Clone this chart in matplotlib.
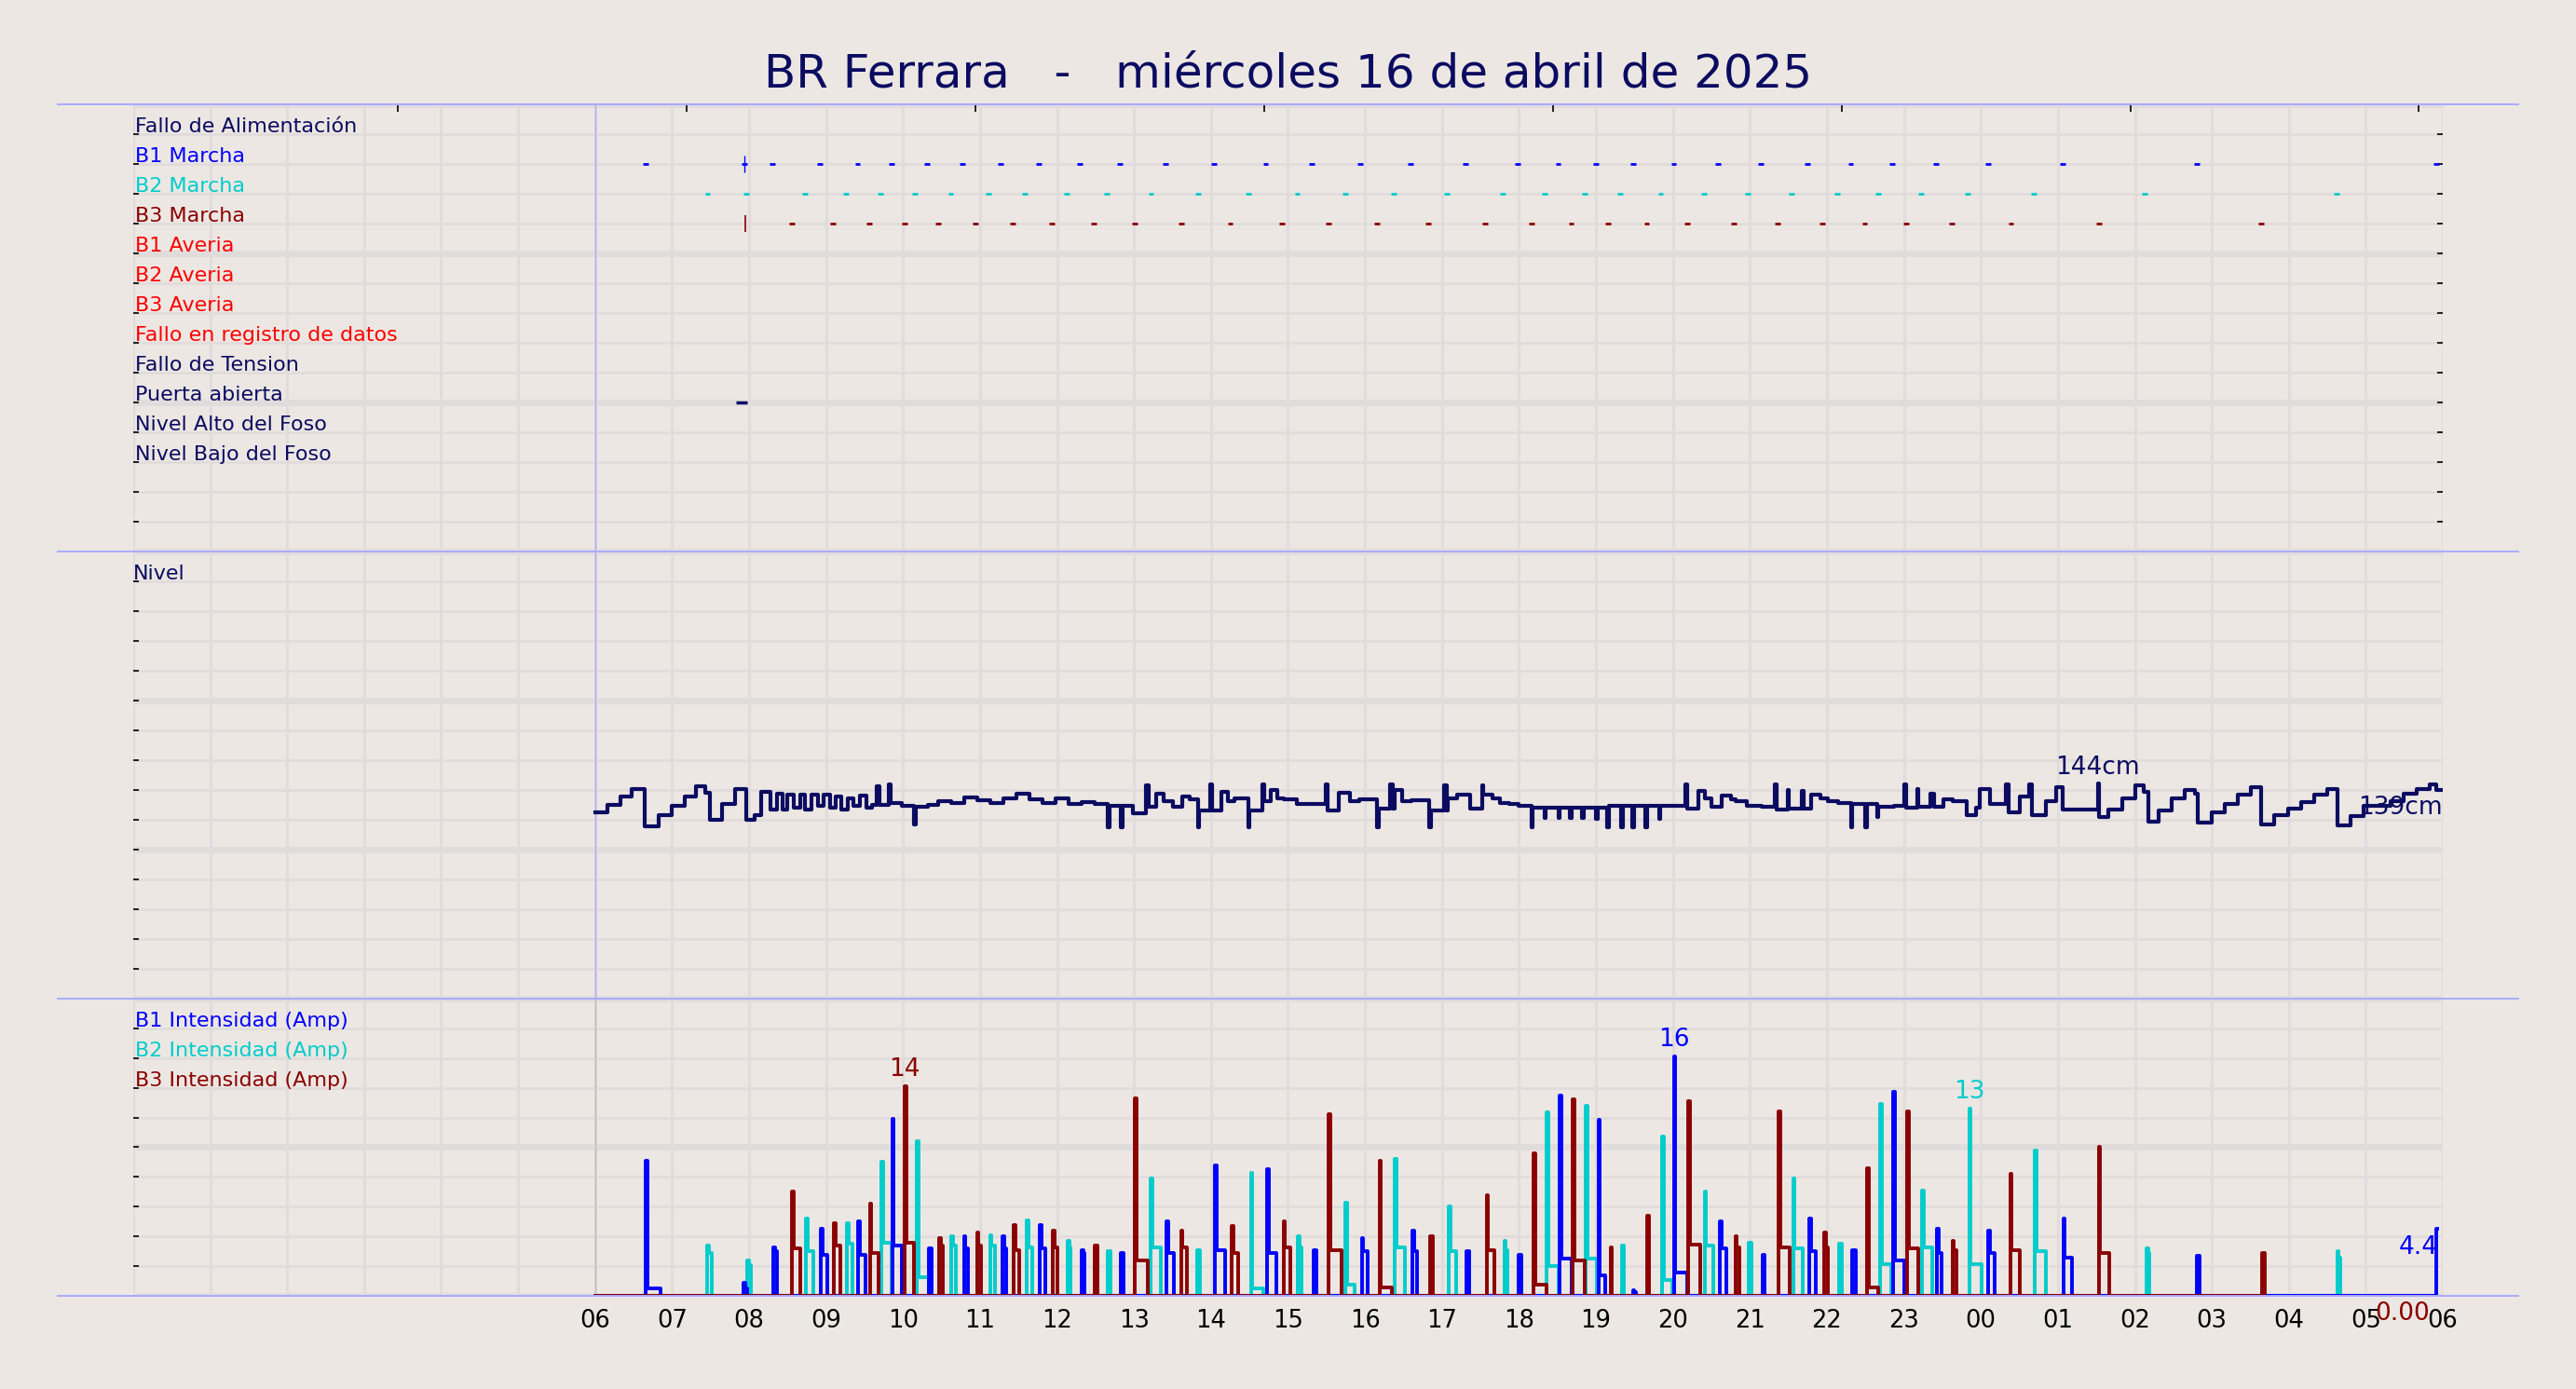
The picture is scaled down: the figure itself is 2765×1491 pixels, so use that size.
import matplotlib
matplotlib.use('Agg')
import matplotlib.pyplot as plt
from matplotlib.lines import Line2D

# ---- data (hours from 00:00 of the 16th, x axis runs to 06:00 of the 17th) ----
title = 'BR Ferrara   -   miércoles 16 de abril de 2025'

top_labels = ['Fallo de Alimentación', 'B1 Marcha', 'B2 Marcha', 'B3 Marcha',
              'B1 Averia', 'B2 Averia', 'B3 Averia', 'Fallo en registro de datos',
              'Fallo de Tension', 'Puerta abierta', 'Nivel Alto del Foso', 'Nivel Bajo del Foso']
bot_labels = ['B1 Intensidad (Amp)', 'B2 Intensidad (Amp)', 'B3 Intensidad (Amp)']

hour_ticks = list(range(6, 31))
hour_labels = ['06', '07', '08', '09', '10', '11', '12', '13', '14', '15', '16', '17',
               '18', '19', '20', '21', '22', '23', '00', '01', '02', '03', '04', '05', '06']
top_ticks = [3.435, 7.19, 10.94, 14.69, 18.44, 22.19, 25.94, 29.68]

# running marks (top panel)
b1_run = [6.66, 7.94, 8.30, 8.92, 9.41, 9.85, 10.31, 10.77, 11.27, 11.76, 12.30, 12.82, 13.41,
          14.04, 14.71, 15.31, 15.94, 16.59, 17.31, 17.98, 18.51, 19.00, 19.48, 20.01, 20.58,
          21.14, 21.75, 22.31, 22.85, 23.42, 24.09, 25.06, 26.80, 29.91]
b2_run = [7.46, 7.96, 8.73, 9.26, 9.71, 10.15, 10.62, 11.11, 11.58, 12.13, 12.65, 13.22, 13.83,
          14.49, 15.12, 15.74, 16.37, 17.06, 17.79, 18.33, 18.85, 19.31, 19.84, 20.40, 20.97,
          21.54, 22.13, 22.67, 23.22, 23.83, 24.69, 26.13, 28.62]
b3_run = [8.56, 9.09, 9.56, 10.02, 10.46, 10.94, 11.42, 11.93, 12.48, 13.01, 13.61, 14.25,
          14.92, 15.53, 16.16, 16.82, 17.56, 18.16, 18.68, 19.16, 19.66, 20.19, 20.79, 21.36,
          21.94, 22.49, 23.03, 23.62, 24.39, 25.53, 27.64]
b1_bar = 7.94
b3_bar = 7.95
puerta = [7.83, 7.98]

# level (cm)
lvl_t = [6.00, 6.16, 6.33, 6.48, 6.65, 6.82, 6.99, 7.16, 7.31, 7.43, 7.49, 7.65, 7.82, 7.96, 8.07, 8.16,
         8.28, 8.36, 8.43, 8.50, 8.58, 8.66, 8.73, 8.81, 8.89, 8.97, 9.05, 9.12, 9.20, 9.28, 9.36, 9.44,
         9.52, 9.60, 9.66, 9.69, 9.82, 9.84, 9.98, 10.14, 10.16,
         10.32, 10.45, 10.62, 10.79, 10.96, 11.13, 11.30, 11.47, 11.64, 11.81, 11.98, 12.15, 12.32,
         12.49, 12.66, 12.68, 12.83, 12.85, 12.99,
         13.16, 13.19, 13.29, 13.38, 13.50, 13.63, 13.72, 13.83, 13.85, 13.99,
         14.01, 14.14, 14.22, 14.31, 14.48, 14.50, 14.67, 14.69, 14.78, 14.86,
         14.94, 15.11, 15.28, 15.49, 15.52, 15.66, 15.80, 15.92, 16.16, 16.18,
         16.33, 16.36, 16.39, 16.48, 16.60, 16.83, 16.86, 17.03, 17.06, 17.07,
         17.20, 17.37, 17.52, 17.54, 17.66, 17.75, 17.88, 18.00, 18.16, 18.18,
         18.33, 18.35, 18.51, 18.53, 18.66, 18.68, 18.82, 18.84,
         19.00, 19.02, 19.15, 19.17, 19.33, 19.35, 19.47, 19.49, 19.64, 19.66, 19.82, 19.84,
         19.99, 20.16, 20.19, 20.33, 20.42, 20.50, 20.63, 20.76, 20.81, 20.96,
         21.15, 21.32, 21.35, 21.49, 21.51, 21.67, 21.70, 21.79, 21.92, 22.01,
         22.14, 22.31, 22.33, 22.50, 22.52, 22.65, 22.67, 22.87, 23.00, 23.03,
         23.17, 23.19, 23.34, 23.39, 23.51, 23.64, 23.82, 23.94, 23.99, 24.12,
         24.33, 24.36, 24.50, 24.63, 24.66, 24.85, 24.98, 25.06, 25.52, 25.54,
         25.66, 25.84, 26.01, 26.12, 26.18,
         26.31, 26.48, 26.65, 26.78, 26.82, 27.00, 27.17, 27.34, 27.51, 27.64,
         27.81, 27.99, 28.16, 28.33, 28.50, 28.63, 28.80, 28.97, 29.32, 29.49,
         29.66, 29.83, 29.92, 30.00]
lvl_cm = [125, 130, 135.5, 140.5, 115.5, 123, 129, 135.5, 142.5, 138, 120, 130.5, 140.5, 120, 123, 138.5,
          127, 137.5, 127, 137, 128, 136.5, 127, 137, 129, 136.5, 128, 135.5, 127, 134, 129, 136,
          128, 130, 142.5, 130, 143.5, 131, 129, 116.7, 128.5,
          130, 132.3, 131.2, 134.8, 133, 131, 134, 137.5, 133.3, 131.2, 134, 130.5, 132,
          130.2, 114.6, 129.2, 114.6, 129.2, 124,
          143.2, 128.5, 137.5, 132.3, 128.5, 135.4, 133.3, 114.6, 126, 143.4,
          126, 138.6, 132.3, 134.4, 114.6, 126, 143.5, 132.3, 139.6, 134.4,
          133.3, 130.6, 130.6, 143.7, 126, 138, 132.3, 133.3, 114.6, 127.1,
          143.5, 127.1, 139.6, 132.3, 132.9, 114.6, 126, 142.7, 126, 134.4,
          136.9, 127.1, 142.7, 136.5, 134.4, 131.2, 130.2, 129.2, 114.6, 127.7,
          120.8, 127.7, 120.8, 127.7, 120.8, 127.7, 120.8, 127.7,
          120.2, 127.7, 114.6, 129.2, 114.6, 129.2, 114.6, 129.2, 114.6, 129.2, 120.2, 129.2,
          129.2, 143.7, 127.1, 139.0, 134.4, 128.5, 136.1, 133.3, 132.3, 129.2,
          128.5, 143.5, 126.5, 139.6, 127.1, 139.0, 127.1, 136.5, 134.0, 132.3,
          131.2, 114.6, 130.2, 114.6, 130.2, 121.9, 128.5, 129.2, 143.5, 127.7,
          140.6, 128.5, 137.5, 128.5, 133.3, 132.3, 122.9, 127.7, 140.6, 130.2,
          143.5, 125, 135.4, 143.7, 122.9, 132.3, 141.7, 126.5, 144, 121.9,
          126.5, 134.4, 142.7, 138.6, 118.8,
          126.0, 134.0, 139.6, 137.5, 118.1, 125.0, 130.2, 136.9, 141.7, 116.7,
          122.9, 127.1, 131.9, 136.9, 140.6, 116.1, 122.3, 129.2, 132.3, 137.5,
          140.6, 143.7, 139.6, 139.6]

# pump currents: start of each run, start-up peak, running current, end of run (A / hours)
b1_t = [6.66, 7.93, 8.32, 8.93, 9.42, 9.86, 10.33, 10.79, 11.29, 11.78, 12.32, 12.83, 13.42, 14.05,
        14.73, 15.33, 15.96, 16.62, 17.32, 18.00, 18.53, 19.03, 19.48, 20.01, 20.61, 21.16, 21.77,
        22.33, 22.86, 23.43, 24.10, 25.07, 26.81, 29.91]
b1_pk = [9.1, 0.9, 3.3, 4.5, 5.0, 11.9, 3.2, 4.0, 4.0, 4.8, 3.1, 2.9, 5.0, 8.8, 8.5, 3.1, 3.9,
         4.4, 3.0, 2.8, 13.5, 11.85, 0.4, 16.1, 5.0, 2.8, 5.2, 3.1, 13.7, 4.5, 4.4, 5.2, 2.7, 4.5]
b1_pl = [0.5, 0.5, 3.0, 2.8, 2.8, 3.4, 3.2, 3.2, 3.2, 3.2, 2.9, 2.9, 2.9, 3.1, 2.9, 3.1, 3.0,
         3.0, 3.0, 2.8, 2.5, 1.4, 0.3, 1.6, 3.2, 2.8, 3.0, 3.1, 2.4, 2.9, 2.9, 2.6, 2.7, 4.5]
b1_end = [6.85, 7.97, 8.36, 9.01, 9.51, 9.99, 10.37, 10.84, 11.34, 11.85, 12.36, 12.86, 13.52,
          14.18, 14.85, 15.37, 16.03, 16.68, 17.35, 18.03, 18.68, 19.12, 19.52, 20.18, 20.69,
          21.19, 21.86, 22.37, 23.00, 23.49, 24.18, 25.18, 26.84, 30.0]

b2_t = [7.46, 7.98, 8.74, 9.27, 9.72, 10.18, 10.63, 11.13, 11.61, 12.14, 12.66, 13.22, 13.82,
        14.52, 15.13, 15.75, 16.39, 17.09, 17.81, 18.36, 18.87, 19.34, 19.86, 20.41, 20.99,
        21.56, 22.16, 22.69, 23.24, 23.85, 24.70, 26.15, 28.63]
b2_pk = [3.4, 2.4, 5.2, 4.9, 9.0, 10.4, 4.0, 4.1, 5.1, 3.7, 3.0, 7.9, 3.1, 8.3, 4.0, 6.3, 9.2,
         6.0, 3.7, 12.35, 12.8, 3.4, 10.7, 7.0, 3.6, 7.9, 3.5, 12.9, 7.1, 12.6, 9.8, 3.2, 3.0]
b2_pl = [2.9, 2.1, 3.0, 3.5, 3.6, 1.3, 3.4, 3.4, 3.3, 3.3, 3.0, 3.25, 3.1, 0.5, 3.25, 0.8, 3.3,
         3.0, 3.1, 2.0, 2.5, 3.4, 1.1, 3.4, 3.6, 3.2, 3.5, 2.15, 3.25, 2.15, 3.0, 2.9, 2.6]
b2_end = [7.51, 8.02, 8.84, 9.34, 9.85, 10.33, 10.69, 11.19, 11.68, 12.18, 12.70, 13.35, 13.86,
          14.68, 15.18, 15.86, 16.52, 17.19, 17.85, 18.51, 19.01, 19.36, 19.99, 20.52, 21.02,
          21.69, 22.20, 22.83, 23.37, 24.01, 24.85, 26.19, 28.67]

b3_t = [8.56, 9.10, 9.57, 10.02, 10.47, 10.96, 11.44, 11.95, 12.49, 13.01, 13.61, 14.27, 14.94,
        15.53, 16.19, 16.85, 17.58, 18.19, 18.70, 19.19, 19.66, 20.20, 20.81, 21.37, 21.97,
        22.52, 23.04, 23.63, 24.38, 25.53, 27.65]
b3_pk = [7.0, 4.9, 6.2, 14.1, 3.9, 4.3, 4.8, 4.4, 3.4, 13.3, 4.4, 4.7, 5.0, 12.25, 9.1, 4.0,
         6.75, 9.6, 13.2, 3.3, 5.4, 13.1, 4.0, 12.4, 4.3, 8.6, 12.4, 3.7, 8.2, 10.0, 2.9]
b3_pl = [3.2, 3.4, 2.9, 3.6, 3.4, 3.4, 3.1, 3.3, 3.4, 2.4, 3.25, 2.9, 3.25, 3.1, 0.6, 4.0,
         3.1, 0.75, 2.4, 3.3, 5.4, 3.45, 3.3, 3.25, 3.25, 0.6, 3.2, 3.1, 3.1, 2.9, 2.9]
b3_end = [8.67, 9.18, 9.68, 10.14, 10.52, 11.01, 11.51, 12.01, 12.52, 13.18, 13.69, 14.35,
          15.03, 15.69, 16.35, 16.88, 17.68, 18.36, 18.85, 19.21, 19.69, 20.35, 20.86, 21.52,
          22.01, 22.67, 23.19, 23.68, 24.51, 25.67, 27.69]

# ---- style ----
BG = '#ece7e2'
GRID = '#e1dcdc'
NAVY = '#0b0b62'
BLUE = '#0000ff'
CYAN = '#00cccc'
DRED = '#8b0000'
SEP = '#aaaaff'
top_colors = [NAVY, BLUE, CYAN, DRED, 'red', 'red', 'red', 'red', NAVY, NAVY, NAVY, NAVY]
bot_colors = [BLUE, CYAN, DRED]
LBL = 16

fig = plt.figure(figsize=(27.65, 14.91), dpi=100, facecolor=BG)
L, W = 0.0517, 0.8966
ax_top = fig.add_axes([L, 0.603, W, 0.3219])
ax_mid = fig.add_axes([L, 0.2813, W, 0.3217])
ax_bot = fig.add_axes([L, 0.0668, W, 0.2145])


def base(ax, nrows, tick_rows, vcol):
    ax.set_facecolor(BG)
    ax.set_xlim(0, 30)
    ax.set_ylim(nrows, 0)
    for s in ax.spines.values():
        s.set_visible(False)
    for h in range(31):
        ax.axvline(h, color=GRID, lw=2.2, zorder=0)
    for r in range(nrows + 1):
        ax.axhline(r, color=GRID, lw=5 if r % 5 == 0 else 2, zorder=0)
    ax.axvline(6, color=vcol, lw=1, zorder=1)
    ax.set_xticks([])
    ax.set_yticks(tick_rows)
    ax.set_yticklabels([])
    ax.tick_params(axis='y', direction='in', left=True, right=True, length=4, width=1.2)


base(ax_top, 15, range(1, 15), SEP)
base(ax_mid, 15, range(1, 15), SEP)
base(ax_bot, 10, range(1, 10), '#bbbbbb')

# top panel
ax_top.set_xticks(top_ticks)
ax_top.tick_params(axis='x', top=True, bottom=False, labelbottom=False,
                   direction='in', length=6, width=1.2)
for i, (lab, col) in enumerate(zip(top_labels, top_colors)):
    ax_top.text(0.02, i + 0.95, lab, color=col, fontsize=LBL, va='baseline', ha='left')
for row, runs, col in [(2, b1_run, BLUE), (3, b2_run, CYAN), (4, b3_run, DRED)]:
    ax_top.hlines([row] * len(runs), [t - 0.035 for t in runs], [t + 0.035 for t in runs],
                  color=col, lw=2, capstyle='butt', zorder=3)
ax_top.vlines(b1_bar, 1.73, 2.27, color=BLUE, lw=1, zorder=3)
ax_top.vlines(b3_bar, 3.73, 4.27, color=DRED, lw=1.2, zorder=3)
ax_top.hlines(10, puerta[0], puerta[1], color=NAVY, lw=2.5, zorder=3)

# middle panel: level
ax_mid.text(0.0, 0.95, 'Nivel', color=NAVY, fontsize=LBL, va='baseline', ha='left')
ax_lvl = ax_mid.twinx()
ax_lvl.set_ylim(0, 300)
ax_lvl.axis('off')
ax_lvl.plot(lvl_t, lvl_cm, drawstyle='steps-post', color=NAVY, lw=3)
i_max = lvl_cm.index(max(lvl_cm))
ax_lvl.text(lvl_t[i_max], lvl_cm[i_max] + 3, '%dcm' % lvl_cm[i_max], color=NAVY,
            fontsize=19, ha='center', va='bottom')
ax_lvl.text(lvl_t[-1], lvl_cm[-1] - 3.5, '%dcm' % int(lvl_cm[-1]), color=NAVY,
            fontsize=19, ha='right', va='top')

# bottom panel: currents
for i, (lab, col) in enumerate(zip(bot_labels, bot_colors)):
    ax_bot.text(0.02, i + 0.95, lab, color=col, fontsize=LBL, va='baseline', ha='left')
ax_bot.set_xticks(hour_ticks)
ax_bot.set_xticklabels(hour_labels)
ax_bot.tick_params(axis='x', length=0, pad=10, labelsize=18.5)

ax_amp = ax_bot.twinx()
ax_amp.set_ylim(0, 20)
ax_amp.axis('off')


def current_steps(ts, pks, pls, ends):
    xs, ys = [6.0], [0.0]
    for t, pk, pl, e in zip(ts, pks, pls, ends):
        xs += [t, t + 0.02]
        ys += [pk, pl]
        if e < 30:
            xs.append(e)
            ys.append(0.0)
    return xs, ys


for ts, pks, pls, ends, col in [(b2_t, b2_pk, b2_pl, b2_end, CYAN),
                                (b1_t, b1_pk, b1_pl, b1_end, BLUE),
                                (b3_t, b3_pk, b3_pl, b3_end, DRED)]:
    xs, ys = current_steps(ts, pks, pls, ends)
    ax_amp.plot(xs, ys, drawstyle='steps-post', color=col, lw=2.8)

ax_amp.text(b3_t[b3_pk.index(max(b3_pk))], max(b3_pk) + 0.3, '%d' % round(max(b3_pk)),
            color=DRED, fontsize=19, ha='center', va='bottom')
ax_amp.text(b1_t[b1_pk.index(max(b1_pk))], max(b1_pk) + 0.3, '%d' % round(max(b1_pk)),
            color=BLUE, fontsize=19, ha='center', va='bottom')
ax_amp.text(b2_t[b2_pk.index(max(b2_pk[-5:]))], max(b2_pk[-5:]) + 0.3, '13',
            color=CYAN, fontsize=19, ha='center', va='bottom')
ax_amp.text(29.93, 3.25, '4.4', color=BLUE, fontsize=19, ha='right', va='center')
ax_amp.text(29.48, -1.15, '0.00', color=DRED, fontsize=19, ha='center', va='center')

# separators and title
for y in [0.9249, 0.603, 0.2813, 0.0668]:
    fig.add_artist(Line2D([0.0223, 0.9777], [y, y], transform=fig.transFigure,
                          color=SEP, lw=1.4))
fig.text(0.5, 0.947, title, color=NAVY, fontsize=36, ha='center', va='center')

fig.savefig('out.png', dpi=100, facecolor=BG)
